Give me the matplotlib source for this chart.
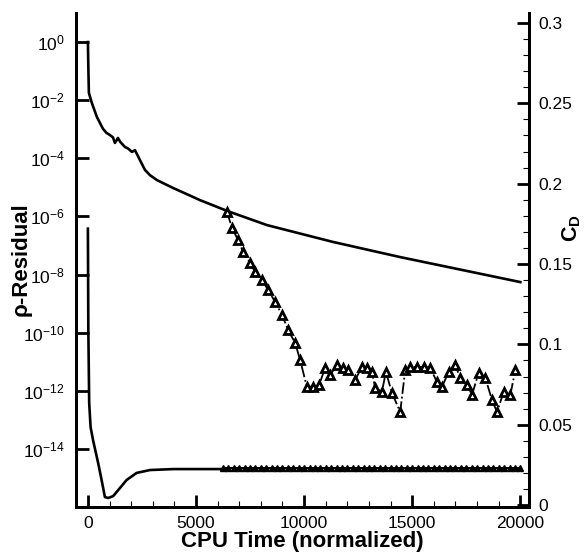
import numpy as np
import matplotlib
matplotlib.use("Agg")
from matplotlib import pyplot as plt
from matplotlib.ticker import MultipleLocator, FixedLocator, FuncFormatter, NullLocator

plt.rcParams['font.family'] = ['Liberation Sans', 'DejaVu Sans']
plt.rcParams['mathtext.default'] = 'regular'

# residuo de la primera corrida (eje izquierdo, log10)
t_res = [0, 23, 46, 185, 417, 694, 850, 1019, 1160, 1250, 1330, 1389, 1500, 1713, 1850,
         2037, 2176, 2300, 2407, 2639, 2870, 3194, 3935, 4861, 5185, 6435, 8287, 11343,
         14444, 17546, 20000]
log_res = [0.0, -0.96, -1.75, -2.10, -2.58, -2.98, -3.12, -3.20, -3.28, -3.47, -3.38, -3.30,
           -3.44, -3.61, -3.66, -3.78, -3.72, -3.90, -4.06, -4.40, -4.58, -4.75, -5.02, -5.33,
           -5.44, -5.81, -6.30, -6.88, -7.40, -7.88, -8.26]

# residuo de la segunda corrida (triangulos)
t_res2 = [6435, 6667, 6944, 7176, 7500, 7731, 8056, 8333, 8657, 8981, 9259, 9583, 9815,
          10125, 10431, 10694, 10972, 11204, 11514, 11819, 12051, 12361, 12671, 12903,
          13134, 13287, 13597, 13782, 14060, 14444, 14676, 14907, 15218, 15523, 15833,
          16144, 16375, 16681, 16991, 17222, 17532, 17764, 18069, 18380, 18690, 18921,
          19227, 19537, 19769]
log_res2 = [-5.85, -6.40, -6.81, -7.22, -7.60, -7.91, -8.19, -8.53, -8.94, -9.39, -9.91,
            -10.35, -10.94, -11.86, -11.86, -11.80, -11.21, -11.46, -11.11, -11.21, -11.28,
            -11.63, -11.18, -11.21, -11.35, -11.90, -12.04, -11.35, -12.07, -12.73, -11.28,
            -11.18, -11.18, -11.18, -11.21, -11.70, -11.87, -11.35, -11.11, -11.56, -11.80,
            -12.14, -11.39, -11.56, -12.32, -12.73, -12.04, -12.14, -11.28]

# coeficiente de arrastre de la primera corrida (eje derecho)
t_cd = [0, 20, 60, 125, 245, 477, 634, 787, 940, 1171, 1481, 1790, 2253, 2870, 3950, 6190]
cd = [0.172, 0.110, 0.0635, 0.0485, 0.040, 0.026, 0.0156, 0.005, 0.0044, 0.0056, 0.0106,
      0.0156, 0.020, 0.0218, 0.0224, 0.0224]

# coeficiente de arrastre de la segunda corrida (triangulos)
t_cd2 = [6250, 6500, 6750, 7000, 7250, 7500, 7750, 8000, 8250, 8500, 8750, 9000, 9250, 9500,
         9750, 10000, 10250, 10500, 10750, 11000, 11250, 11500, 11750, 12000, 12250, 12500,
         12750, 13000, 13250, 13500, 13750, 14000, 14250, 14500, 14750, 15000, 15250, 15500,
         15750, 16000, 16250, 16500, 16750, 17000, 17250, 17500, 17750, 18000, 18250, 18500,
         18750, 19000, 19250, 19500, 19750, 20000]
cd2 = [0.0232, 0.0232, 0.0232, 0.0232, 0.0232, 0.0232, 0.0232, 0.0232, 0.0232, 0.0232,
       0.0232, 0.0232, 0.0232, 0.0232, 0.0232, 0.0232, 0.0232, 0.0232, 0.0232, 0.0232,
       0.0232, 0.0232, 0.0232, 0.0232, 0.0232, 0.0232, 0.0232, 0.0232, 0.0232, 0.0232,
       0.0232, 0.0232, 0.0232, 0.0232, 0.0232, 0.0232, 0.0232, 0.0232, 0.0232, 0.0232,
       0.0232, 0.0232, 0.0232, 0.0232, 0.0232, 0.0232, 0.0232, 0.0232, 0.0232, 0.0232,
       0.0232, 0.0232, 0.0232, 0.0232, 0.0232, 0.0232]

xticks = [0, 5000, 10000, 15000, 20000]
yticks_res = [0, -2, -4, -6, -8, -10, -12, -14]
yticks_cd = [0, 0.05, 0.1, 0.15, 0.2, 0.25, 0.3]

fig = plt.figure(figsize=(5.87, 5.52), dpi=100)
ax = fig.add_axes([76/587, 45/552, 453/587, 494/552])
ax2 = ax.twinx()

ax.plot(t_res, 10.0**np.array(log_res), color='black', lw=1.9)
ax.plot(t_res2, 10.0**np.array(log_res2), color='black', lw=1.3, ls='-.',
        marker='^', ms=6, mfc='white', mec='black', mew=2)
ax2.plot(t_cd, cd, color='black', lw=1.9)
ax2.plot(t_cd2, cd2, color='black', lw=1.5, marker='^', ms=4.2, mfc='black', mec='black', mew=1)

ax.set_yscale('log')
ax.set_xlim(-550, 20400)
ax.set_ylim(1e-16, 1e1)
ax2.set_ylim(-0.0012, 0.3062)

ax.xaxis.set_major_locator(FixedLocator(xticks))
ax.xaxis.set_minor_locator(MultipleLocator(1000))
ax.yaxis.set_major_locator(FixedLocator([10.0**e for e in yticks_res]))
ax.yaxis.set_minor_locator(NullLocator())
ax.yaxis.set_major_formatter(FuncFormatter(lambda v, p: r'$10^{%d}$' % round(np.log10(v))))
ax2.yaxis.set_major_locator(FixedLocator(yticks_cd))
ax2.yaxis.set_minor_locator(MultipleLocator(0.01))
ax2.yaxis.set_major_formatter(FuncFormatter(lambda v, p: '%g' % v))

for a in (ax, ax2):
    a.spines['top'].set_visible(False)
    for s in ('left', 'right', 'bottom'):
        a.spines[s].set_linewidth(2.1)
    a.tick_params(which='major', direction='in', length=9, width=2, labelsize=12.5, pad=6.5)
    a.tick_params(which='minor', direction='in', length=4.5, width=0.8)
ax.tick_params(axis='y', pad=8)

fig.text(302.5/587, 1 - 541/552, 'CPU Time (normalized)', fontsize=16, fontweight='bold',
         ha='center', va='center')
fig.text(21/587, 1 - 259/552, 'ρ-Residual', fontsize=16, fontweight='bold',
         ha='center', va='center', rotation=90)
fig.text(572/587, 1 - 228/552, r'C$_D$', fontsize=15.5, fontweight='bold',
         ha='center', va='center', rotation=90)

plt.savefig('out.png', dpi=100)
